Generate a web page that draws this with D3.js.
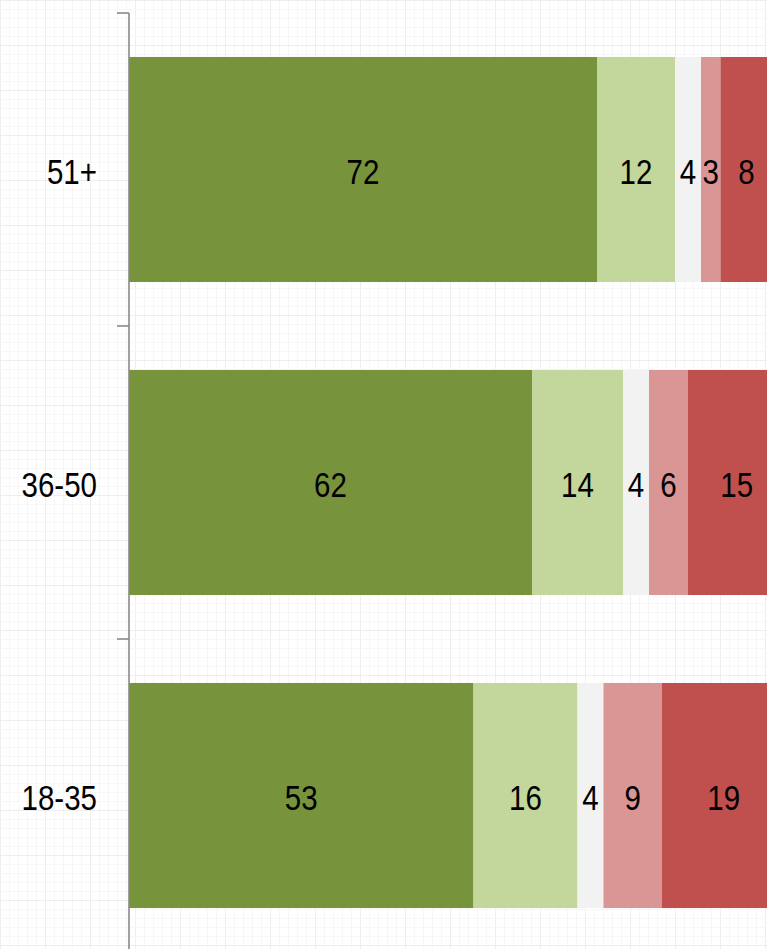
<!DOCTYPE html>
<html>
<head>
<meta charset="utf-8">
<script src="https://cdn.jsdelivr.net/npm/d3@7"></script>
<style>
  html, body { margin: 0; padding: 0; background: #fff; overflow: hidden; }
  svg { display: block; }
  text { font-family: "Liberation Sans Narrow", "Arial Narrow", "Liberation Sans", sans-serif; fill: #000; }
</style>
</head>
<body>
<svg id="chart"></svg>
<script>
// age groups, top to bottom
var groups = ["51+", "36-50", "18-35"];
// five answer buckets, left to right
var series = ["s1", "s2", "s3", "s4", "s5"];
var colors = ["#77933c", "#c3d69b", "#f2f2f2", "#d99694", "#c0504d"];
var values = {
    "51+":   [72, 12, 4, 3, 8],
    "36-50": [62, 14, 4, 6, 15],
    "18-35": [53, 16, 4, 9, 19]
};

var W = 767, H = 949;
var narrow = 0.82; // no narrow font installed, squeeze the regular one
var svg = d3.select("#chart").attr("width", W).attr("height", H);

// faint graph-paper background
var bg = svg.append("g");
d3.range(0, W, 9).forEach(function (x, i) {
    bg.append("line").attr("x1", x + 0.5).attr("x2", x + 0.5).attr("y1", 0).attr("y2", H)
        .attr("stroke", i % 5 == 0 ? "#eeeeee" : "#f7f7f7").attr("stroke-width", 1);
});
d3.range(0, H, 9).forEach(function (y, i) {
    bg.append("line").attr("y1", y + 0.5).attr("y2", y + 0.5).attr("x1", 0).attr("x2", W)
        .attr("stroke", i % 5 == 0 ? "#eeeeee" : "#f7f7f7").attr("stroke-width", 1);
});

var x = d3.scaleLinear().domain([0, 100]).range([129, 779]);
var y = d3.scaleBand().domain(groups).range([13, 952])
    .paddingInner(0.281).paddingOuter(0.1405);

var rows = groups.map(function (g) {
    var acc = 0;
    return values[g].map(function (v, i) {
        var seg = { group: g, i: i, v: v, x0: acc, x1: acc + v };
        acc += v;
        return seg;
    });
});

var segs = svg.append("g").selectAll("g.row").data(rows).enter().append("g").attr("class", "row");

segs.selectAll("rect").data(function (d) { return d; }).enter().append("rect")
    .attr("x", function (d) { return x(d.x0); })
    .attr("width", function (d) { return x(d.x1) - x(d.x0); })
    .attr("y", function (d) { return y(d.group); })
    .attr("height", y.bandwidth())
    .attr("fill", function (d) { return colors[d.i]; });

segs.selectAll("text").data(function (d) { return d; }).enter().append("text")
    .attr("transform", function (d) {
        return "translate(" + (x(d.x0) + x(d.x1)) / 2 + "," + (y(d.group) + y.bandwidth() / 2 + 2) + ") scale(" + narrow + ",1)";
    })
    .attr("dy", "0.36em")
    .attr("text-anchor", "middle")
    .style("font-size", "36px")
    .text(function (d) { return d.v; });

// axis: line with ticks on the band boundaries
var ax = svg.append("g");
var x0 = 129;
ax.append("line").attr("x1", x0).attr("x2", x0).attr("y1", 13).attr("y2", H)
    .attr("stroke", "#898989").attr("stroke-width", 1.6);
d3.range(groups.length + 1).forEach(function (i) {
    var ty = 13 + i * y.step();
    ax.append("line").attr("x1", x0 - 12).attr("x2", x0).attr("y1", ty).attr("y2", ty)
        .attr("stroke", "#898989").attr("stroke-width", 1.6);
});

ax.selectAll("text.cat").data(groups).enter().append("text")
    .attr("class", "cat")
    .attr("transform", function (d) {
        return "translate(97," + (y(d) + y.bandwidth() / 2 + 2) + ") scale(" + narrow + ",1)";
    })
    .attr("dy", "0.36em")
    .attr("text-anchor", "end")
    .style("font-size", "36px")
    .text(function (d) { return d; });
</script>
</body>
</html>
